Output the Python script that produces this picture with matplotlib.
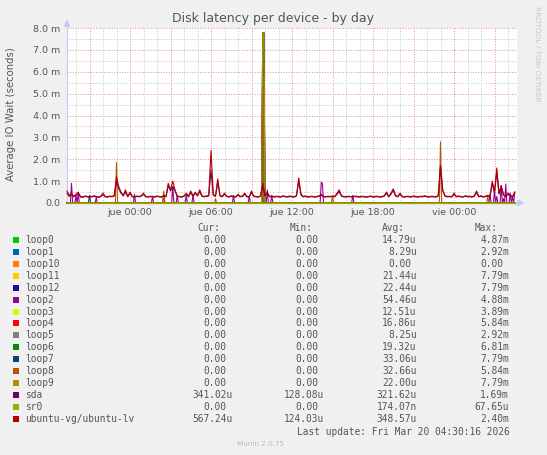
import matplotlib
matplotlib.use('Agg')
import matplotlib.pyplot as plt
import numpy as np
from matplotlib.patches import Rectangle, Polygon

# ---------------- data ----------------
names = ['loop0', 'loop1', 'loop10', 'loop11', 'loop12', 'loop2', 'loop3', 'loop4',
         'loop5', 'loop6', 'loop7', 'loop8', 'loop9', 'sda', 'sr0', 'ubuntu-vg/ubuntu-lv']
colors = ['#00CC00', '#0066B3', '#FF8000', '#FFCC00', '#330099', '#990099', '#CCFF00', '#FF0000',
          '#808080', '#008F00', '#00487D', '#B35A00', '#B38F00', '#6B006B', '#8FB300', '#B30000']

cur_txt = ['0.00'] * 13 + ['341.02u', '0.00', '567.24u']
min_txt = ['0.00'] * 13 + ['128.08u', '0.00', '124.03u']
avg_txt = ['14.79u', '8.29u', '0.00', '21.44u', '22.44u', '54.46u', '12.51u', '16.86u',
           '8.25u', '19.32u', '33.06u', '32.66u', '22.00u', '321.62u', '174.07n', '348.57u']
max_txt = ['4.87m', '2.92m', '0.00', '7.79m', '7.79m', '4.88m', '3.89m', '5.84m',
           '2.92m', '6.81m', '7.79m', '5.84m', '7.79m', '1.69m', '67.65u', '2.40m']

x_tick_hours = [0, 6, 12, 18, 24]
x_tick_labels = ['jue 00:00', 'jue 06:00', 'jue 12:00', 'jue 18:00', 'vie 00:00']
y_ticks = [0, 1, 2, 3, 4, 5, 6, 7, 8]
y_tick_labels = ['0.0', '1.0 m', '2.0 m', '3.0 m', '4.0 m', '5.0 m', '6.0 m', '7.0 m', '8.0 m']

# ubuntu-vg/ubuntu-lv, ms, one sample per 10 minutes from Wed 19:20
lv = [0.55, 0.35, 0.45, 0.30, 0.40, 0.50, 0.30, 0.28, 0.32, 0.30,
      0.28, 0.30, 0.33, 0.30, 0.27, 0.31, 0.45, 0.30, 0.28, 0.32,
      0.30, 0.35, 1.20, 0.75, 0.50, 0.35, 0.60, 0.30, 0.50, 0.30,
      0.28, 0.32, 0.30, 0.33, 0.45, 0.30, 0.28, 0.31, 0.30, 0.29,
      0.32, 0.30, 0.28, 0.35, 0.30, 0.90, 0.60, 1.00, 0.60, 0.32,
      0.30, 0.28, 0.33, 0.45, 0.30, 0.55, 0.32, 0.50, 0.35, 0.60,
      0.33, 0.30, 0.32, 0.35, 2.40, 0.40, 0.32, 1.10, 0.35, 0.30,
      0.45, 0.31, 0.29, 0.33, 0.30, 0.28, 0.40, 0.30, 0.32, 0.45,
      0.30, 0.28, 0.55, 0.32, 0.30, 0.28, 0.33, 0.90, 0.35, 0.50,
      0.30, 0.32, 0.29, 0.31, 0.30, 0.28, 0.33, 0.30, 0.29, 0.32,
      0.30, 0.28, 0.35, 1.15, 0.40, 0.30, 0.32, 0.29, 0.30, 0.31,
      0.28, 0.30, 0.33, 0.40, 0.30, 0.29, 0.31, 0.30, 0.32, 0.30,
      0.45, 0.60, 0.33, 0.30, 0.29, 0.31, 0.30, 0.28, 0.32, 0.30,
      0.29, 0.31, 0.30, 0.28, 0.30, 0.32, 0.29, 0.30, 0.31, 0.28,
      0.30, 0.33, 0.50, 0.30, 0.45, 0.65, 0.35, 0.30, 0.45, 0.30,
      0.28, 0.31, 0.30, 0.29, 0.32, 0.30, 0.28, 0.31, 0.30, 0.33,
      0.30, 0.29, 0.31, 0.30, 0.28, 0.35, 1.70, 0.55, 0.33, 0.30,
      0.31, 0.29, 0.45, 0.30, 0.32, 0.30, 0.28, 0.33, 0.30, 0.31,
      0.29, 0.32, 0.55, 0.30, 0.33, 0.29, 0.31, 0.35, 0.30, 1.00,
      0.50, 1.60, 0.45, 0.80, 0.40, 0.30, 0.45, 0.35, 0.30, 0.50]

sda = [0.45, 0.30, 0.40, 0.28, 0.35, 0.42, 0.27, 0.26, 0.30, 0.28,
       0.27, 0.28, 0.30, 0.28, 0.26, 0.29, 0.38, 0.28, 0.27, 0.30,
       0.28, 0.32, 1.00, 0.65, 0.45, 0.32, 0.50, 0.28, 0.45, 0.28,
       0.27, 0.30, 0.28, 0.31, 0.40, 0.28, 0.27, 0.29, 0.28, 0.27,
       0.30, 0.28, 0.27, 0.32, 0.28, 0.80, 0.55, 0.75, 0.55, 0.30,
       0.28, 0.27, 0.31, 0.40, 0.28, 0.48, 0.30, 0.45, 0.32, 0.52,
       0.30, 0.28, 0.30, 0.32, 1.50, 0.36, 0.30, 0.95, 0.32, 0.28,
       0.40, 0.29, 0.27, 0.31, 0.28, 0.27, 0.36, 0.28, 0.30, 0.40,
       0.28, 0.27, 0.48, 0.30, 0.28, 0.27, 0.31, 0.80, 0.33, 0.45,
       0.28, 0.30, 0.27, 0.29, 0.28, 0.27, 0.31, 0.28, 0.27, 0.30,
       0.28, 0.27, 0.32, 1.00, 0.36, 0.28, 0.30, 0.27, 0.28, 0.29,
       0.27, 0.28, 0.31, 0.36, 0.28, 0.27, 0.29, 0.28, 0.30, 0.28,
       0.40, 0.52, 0.31, 0.28, 0.27, 0.29, 0.28, 0.27, 0.30, 0.28,
       0.27, 0.29, 0.28, 0.27, 0.28, 0.30, 0.27, 0.28, 0.29, 0.27,
       0.28, 0.31, 0.45, 0.28, 0.40, 0.58, 0.32, 0.28, 0.40, 0.28,
       0.27, 0.29, 0.28, 0.27, 0.30, 0.28, 0.27, 0.29, 0.28, 0.31,
       0.28, 0.27, 0.29, 0.28, 0.27, 0.32, 1.69, 0.60, 0.31, 0.28,
       0.29, 0.27, 0.40, 0.28, 0.30, 0.28, 0.27, 0.31, 0.28, 0.29,
       0.27, 0.30, 0.48, 0.28, 0.31, 0.27, 0.29, 0.32, 0.28, 0.90,
       0.45, 1.40, 0.40, 0.70, 0.36, 0.28, 0.40, 0.32, 0.28, 0.45]

# loop devices: zero except these (5-minute sample index: ms)
loop0_spikes = {174: 4.87}
loop1_spikes = {174: 2.92}
loop10_spikes = {}
loop11_spikes = {174: 7.79, 175: 7.79}
loop12_spikes = {174: 7.79, 175: 7.79}
loop2_spikes = {4: 0.90, 8: 0.35, 10: 0.45, 26: 0.25, 60: 0.40, 76: 0.30, 86: 0.35,
                94: 0.75, 98: 0.35, 106: 0.35, 112: 0.35, 148: 0.35, 162: 0.30, 174: 4.88,
                178: 0.60, 182: 0.35, 226: 0.95, 227: 0.90, 254: 0.35, 376: 0.40, 380: 0.55,
                382: 0.30, 386: 0.80, 388: 0.20, 390: 0.87, 394: 0.45, 396: 0.30, 398: 0.50}
loop3_spikes = {174: 3.89}
loop4_spikes = {174: 5.84}
loop5_spikes = {175: 2.92}
loop6_spikes = {175: 6.81}
loop7_spikes = {20: 0.35, 174: 7.79, 175: 7.79}
loop8_spikes = {44: 1.85, 86: 0.55, 132: 0.20, 175: 5.84, 236: 0.30, 332: 2.80, 374: 0.30}
loop9_spikes = {174: 7.79, 175: 7.79}
sr0_spikes = {}

n = len(lv)
hours = (np.arange(n) - 28) / 6.0          # 10-minute samples, hours rel. Thu 00:00
n5 = 2 * n - 1
hours5 = (np.arange(n5) - 56) / 12.0       # 5-minute samples


def from_spikes(sp):
    arr = np.zeros(n5)
    for k, v in sp.items():
        arr[k] = v
    return arr


loop_spikes = [loop0_spikes, loop1_spikes, loop10_spikes, loop11_spikes, loop12_spikes,
               loop2_spikes, loop3_spikes, loop4_spikes, loop5_spikes, loop6_spikes,
               loop7_spikes, loop8_spikes, loop9_spikes]
series = [(hours5, from_spikes(sp)) for sp in loop_spikes]
series += [(hours, np.array(sda)), (hours5, from_spikes(sr0_spikes)), (hours, np.array(lv))]

# ---------------- figure ----------------
W, H = 547, 455
fig = plt.figure(figsize=(W / 100, H / 100), dpi=100, facecolor='#F0F0F0')


def fx(x):
    return x / W


def fy(y):
    return 1 - y / H


L, R, T, B = 67, 517, 28, 203
ax = fig.add_axes([fx(L), fy(B), (R - L) / W, (B - T) / H])
ax.set_facecolor('white')
ax.set_xlim(-28 / 6.0, 172 / 6.0)
ax.set_ylim(0, 8)

txt = '#555555'
px = 0.72
dot = (0, (1, 1.6))
# grid
for h in range(-4, 29):
    if h % 3 == 0:
        continue
    ax.axvline(h, color='#C8C8C8', lw=px, ls=dot, zorder=1)
for v in np.arange(0.5, 8.0, 1.0):
    ax.axhline(v, color='#C8C8C8', lw=px, ls=dot, zorder=1)
for h in range(-3, 29, 3):
    ax.axvline(h, color='#E59090', lw=px, ls=dot, zorder=1.5)
for v in range(1, 9):
    ax.axhline(v, color='#E59090', lw=px, ls=dot, zorder=1.5)

for (tt, s), c in zip(series, colors):
    ax.plot(tt, s, color=c, lw=0.8, zorder=3, clip_on=False)

for sp in ['top', 'right']:
    ax.spines[sp].set_visible(False)
for sp in ['left', 'bottom']:
    ax.spines[sp].set_color('#C4CAEE')
    ax.spines[sp].set_linewidth(0.8)

ax.set_xticks(x_tick_hours)
ax.set_xticklabels(x_tick_labels)
ax.set_yticks(y_ticks)
ax.set_yticklabels(y_tick_labels)
ax.tick_params(axis='both', length=0, colors=txt, labelsize=6.8)
ax.tick_params(axis='x', pad=3.5)
ax.tick_params(axis='y', pad=5)

# arrows
fig.patches.append(Polygon([(fx(64.5), fy(26.5)), (fx(69.5), fy(26.5)), (fx(67), fy(20.5))],
                           closed=True, transform=fig.transFigure, color='#C4CAEE'))
fig.patches.append(Polygon([(fx(517.5), fy(200.5)), (fx(517.5), fy(205.5)), (fx(523.5), fy(203))],
                           closed=True, transform=fig.transFigure, color='#C4CAEE'))

fig.text(fx(273), fy(18.5), 'Disk latency per device - by day', ha='center', va='center',
         fontsize=9.0, color=txt)
fig.text(fx(10.8), fy(114), 'Average IO Wait (seconds)', rotation=90, ha='center', va='center',
         fontsize=7.3, color=txt)
fig.text(fx(537), fy(53.5), 'RRDTOOL / TOBI OETIKER', rotation=270, ha='center', va='center',
         fontsize=5.4, color='#C8C8C8')

# legend
mono = 'DejaVu Sans Mono'
fs = 6.85
cw = fs * 100 / 72 * 0.602
num_end = [226.5, 318.5, 410.8, 503.0]
heads = ['Cur:', 'Min:', 'Avg:', 'Max:']
for e, hd in zip(num_end, heads):
    fig.text(fx(e - cw - len(hd) * cw), fy(228.3), hd, ha='left', va='center', family=mono,
             fontsize=fs, color=txt)

cols = [cur_txt, min_txt, avg_txt, max_txt]
for k, nm in enumerate(names):
    yy = 239.7 + 11.97 * k
    fig.patches.append(Rectangle((fx(13.3), fy(yy + 3)), 6 / W, 6 / H, transform=fig.transFigure,
                                 facecolor=colors[k], edgecolor='none'))
    fig.text(fx(25), fy(yy), nm, ha='left', va='center', family=mono, fontsize=fs, color=txt)
    for e, col in zip(num_end, cols):
        s = col[k]
        nlen = len(s) - 1 if s[-1].isalpha() else len(s)
        fig.text(fx(e - nlen * cw), fy(yy), s, ha='left', va='center', family=mono,
                 fontsize=fs, color=txt)

fig.text(fx(509.5), fy(431.7), 'Last update: Fri Mar 20 04:30:16 2026', ha='right', va='center',
         family=mono, fontsize=fs, color=txt)
fig.text(fx(260.7), fy(444), 'Munin 2.0.75', ha='center', va='center', fontsize=5.2, color='#BBBBBB')

fig.savefig('out.png', dpi=100, facecolor=fig.get_facecolor())
